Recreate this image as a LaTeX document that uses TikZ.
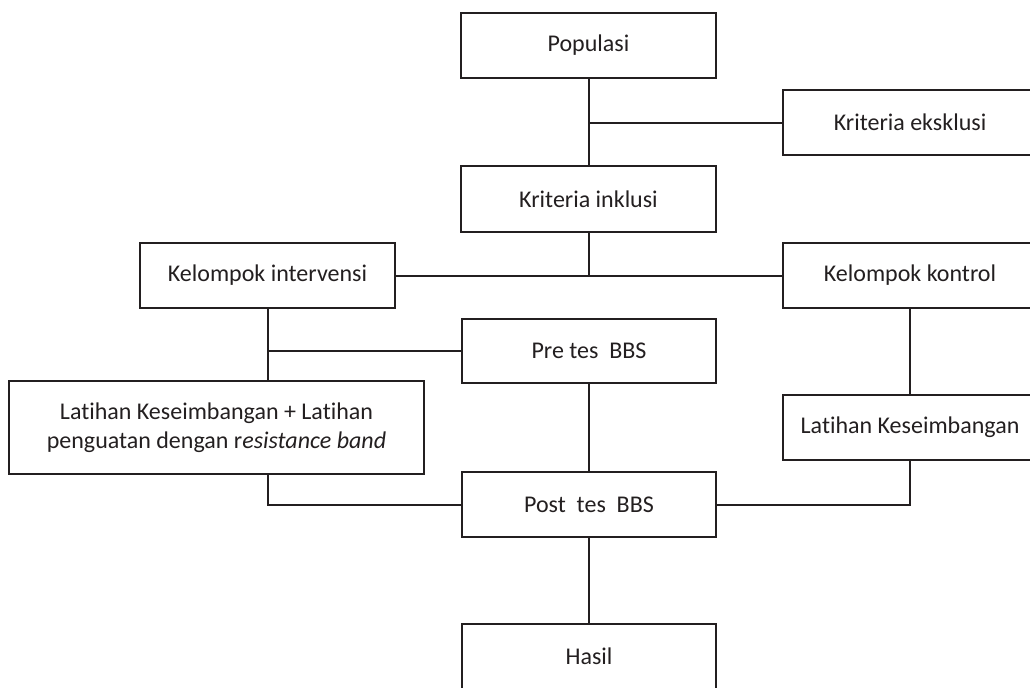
\documentclass[tikz,border=0pt]{standalone}
\usepackage{fontspec}
\setmainfont[Ligatures=NoCommon]{Carlito}
\usepackage{xcolor}
\definecolor{inkgray}{RGB}{35,31,32}
\usetikzlibrary{positioning}

\begin{document}
\begin{tikzpicture}[
    x=0.75pt, y=-0.75pt,
    stage/.style={
        rectangle,
        draw=inkgray,
        line width=1.5pt,
        inner sep=0pt,
        minimum width=191pt,
        minimum height=48.75pt,
        align=center,
        text=inkgray,
        font=\fontsize{18}{21.5}\selectfont
    },
    link/.style={line width=1.5pt, draw=inkgray}
]
    \useasboundingbox (0,0) rectangle (1030,687);
    \clip (0,0) rectangle (1030,687);

    % Boxes
    \node[stage] (populasi) at (588.5,45.5) {Populasi};
    \node[stage] (eksklusi) at (910,122.5) {Kriteria eksklusi};
    \node[stage, minimum height=49.5pt] (inklusi) at (588.5,199) {Kriteria inklusi};
    \node[stage] (intervensi) at (267.5,275.5) {Kelompok intervensi};
    \node[stage] (kontrol) at (910,275.5) {Kelompok kontrol};
    \node[stage, minimum height=48pt] (pretes) at (589,351) {Pre tes\ \ BBS};
    \node[stage, minimum width=311.25pt, minimum height=69.75pt] (latihanA) at (216.5,427.5)
        {Latihan Keseimbangan + Latihan\\penguatan dengan r\textit{esistance band}};
    \node[stage] (latihanB) at (910,427.5) {Latihan Keseimbangan};
    \node[stage] (posttes) at (589,504.5) {Post\ \ tes\ \ BBS};
    \node[stage] (hasil) at (589,656.5) {Hasil};

    % Connectors
    \draw[link] (populasi) -- (inklusi);
    \draw[link] (eksklusi.west) -- (eksklusi.west -| populasi.south);
    \draw[link] (intervensi) -- (kontrol);
    \draw[link] (inklusi.south) -- (inklusi.south |- intervensi.east);
    \draw[link] (intervensi.south) -- (intervensi.south |- latihanA.north);
    \draw[link] (pretes.west) -- (pretes.west -| intervensi.south);
    \draw[link] (pretes) -- (posttes);
    \draw[link] (kontrol) -- (latihanB);
    \draw[link] (latihanA.south -| intervensi.south) |- (posttes.west);
    \draw[link] (latihanB.south) |- (posttes.east);
    \draw[link] (posttes) -- (hasil);
\end{tikzpicture}
\end{document}
